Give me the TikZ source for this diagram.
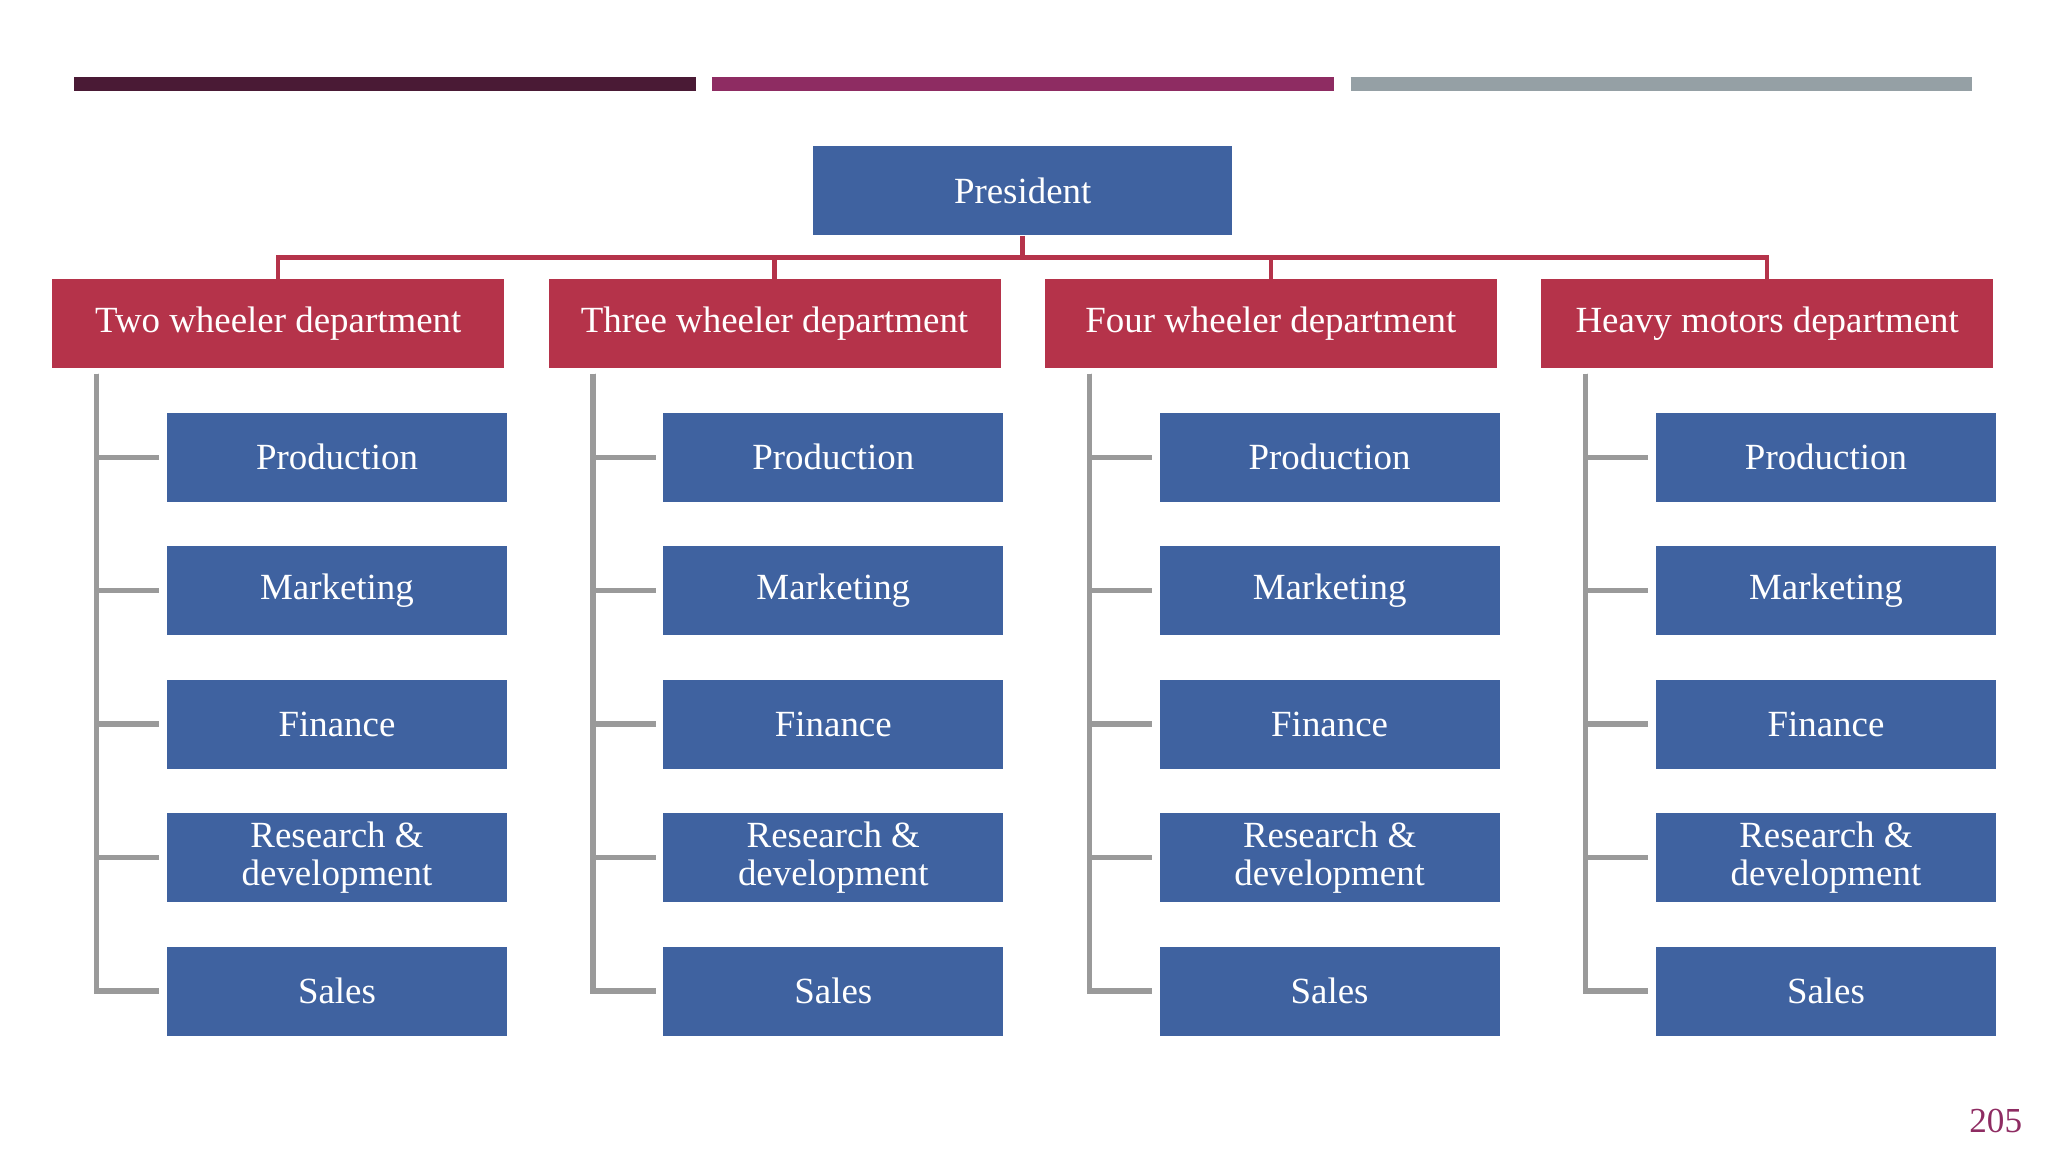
\documentclass[tikz,border=0pt]{standalone}
\usepackage{fontspec}
\setmainfont{Liberation Serif}
\usetikzlibrary{positioning}
\definecolor{cblue}{HTML}{3F62A0}
\definecolor{cred}{HTML}{B5334A}
\definecolor{cplum}{HTML}{4A1A35}
\definecolor{cmagenta}{HTML}{8E2C62}
\definecolor{cgray}{HTML}{95A0A5}
\definecolor{cline}{HTML}{9A9A9A}
\tikzset{
Box/.style={
	draw=none,
	align=center,
	text=white,
	font=\fontsize{10.5}{11}\selectfont,
	inner sep=0pt
},
Head/.style={
	Box,
	fill=cblue,
	minimum width=4.19cm,
	minimum height=0.89cm
},
Dept/.style={
	Box,
	fill=cred,
	minimum width=4.52cm,
	minimum height=0.89cm
},
Unit/.style={
	Box,
	fill=cblue,
	minimum width=3.40cm,
	minimum height=0.89cm
},
RedEdge/.style={
	draw=cred, line width=1.3pt
},
Trunk/.style={
	draw=cline, line width=1.5pt, shorten >=2pt
},
Bar/.style={
	line width=4pt
}
}

\begin{document}
\begin{tikzpicture}[x={0.01306cm}, y={-0.01306cm}]
	\useasboundingbox (0,0) rectangle (1568,882);

	\draw[Bar, cplum] (57,64) -- (533,64);
	\draw[Bar, cmagenta] (545,64) -- (1021,64);
	\draw[Bar, cgray] (1034,64) -- (1510,64);

	\node[Head] (P) at (783,146) {President};
	\coordinate (bus) at (783,197);
	\draw[RedEdge] (P.south) -- (bus);

	\foreach \i/\dname in {0/Two wheeler department, 1/Three wheeler department,
		2/Four wheeler department, 3/Heavy motors department}{
		\node[Dept] (D\i) at ({213+380*\i},248) {\dname};
		\draw[RedEdge] (bus) -| (D\i.north);
		\coordinate (T\i) at ({74+380*\i},286);
		\foreach \j/\uname in {0/Production, 1/Marketing, 2/Finance,
			3/{Research \&\\development}, 4/Sales}{
			\node[Unit] (U\i\j) at ({258+380*\i},{350+102.2*\j}) {\uname};
			\draw[Trunk] (T\i) |- (U\i\j.west);
		}
	}

	\node[text=cmagenta, font=\fontsize{10}{12}\selectfont] (page) at (1528,858) {205};
\end{tikzpicture}
\end{document}
